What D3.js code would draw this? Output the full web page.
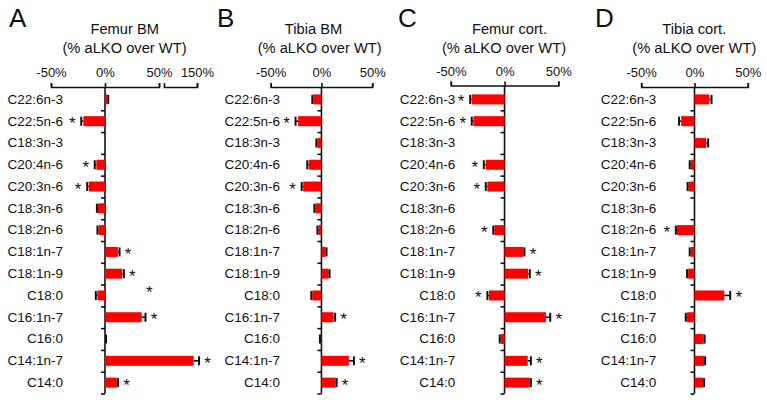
<!DOCTYPE html>
<html>
<head>
<meta charset="utf-8">
<script src="https://cdn.jsdelivr.net/npm/d3@7"></script>
<style>
  html, body { margin: 0; padding: 0; background: #fff; }
  svg text { font-family: "Liberation Sans", Arial, sans-serif; fill: #111; }
</style>
</head>
<body>
<script>
// ---------- data ----------
const categories = ["C22:6n-3","C22:5n-6","C18:3n-3","C20:4n-6","C20:3n-6","C18:3n-6","C18:2n-6",
                    "C18:1n-7","C18:1n-9","C18:0","C16:1n-7","C16:0","C14:1n-7","C14:0"];

const femurBM     = [2, -20, null, -8, -15, -6.5, -6, 12, 16, -7, 34, 0.5, 145, 11];
const femurBMErr  = [1, 2, 0, 1.5, 1.5, 1, 1, 1.5, 1.5, 1.5, 3.5, 0.5, 8, 1];
const femurBMSig  = [0, 1, 0, 1, 1, 0, 0, 1, 1, 1, 1, 0, 1, 1];
const femurBMStarAnchor = {"C18:0": 41};   // the C18:0 asterisk sits apart from its bar

const tibiaBM     = [-8, -23, -4, -12.5, -18, -6, -3, 4, 7, -9, 12, -1, 27, 14];
const tibiaBMErr  = [1, 2.5, 1, 1.5, 1.5, 1, 1, 1, 1, 1, 1.5, 0.5, 5, 1];
const tibiaBMSig  = [0, 1, 0, 0, 1, 0, 0, 0, 0, 0, 1, 0, 1, 1];

const femurCort    = [-30.5, -29, null, -17.5, -16, null, -9.5, 17.5, 22, -14.5, 38.5, -3.5, 21.5, 23.5];
const femurCortErr = [1.5, 1.5, 0, 1.8, 1.5, 0, 1, 1, 1.5, 1.5, 4, 1, 3, 1];
const femurCortSig = [1, 1, 0, 1, 1, 0, 1, 1, 1, 1, 1, 0, 1, 1];

const tibiaCort    = [14, -12.5, 11, -3.5, -5.5, null, -16.5, -3.5, -6, 28, -7, 8.5, 9, 8];
const tibiaCortErr = [2, 2, 1.8, 1, 1, 0, 1, 1, 1, 5.5, 1.2, 1, 1, 1];
const tibiaCortSig = [0, 0, 0, 0, 0, 0, 1, 0, 0, 1, 0, 0, 0, 0];

const mainTicks  = [-50, 0, 50];
const breakTicks = [150];
const titles = [["Femur BM", "(% aLKO over WT)"], ["Tibia BM", "(% aLKO over WT)"],
                ["Femur cort.", "(% aLKO over WT)"], ["Tibia cort.", "(% aLKO over WT)"]];
const letters = ["A", "B", "C", "D"];

// ---------- layout ----------
const W = 767, H = 407;
const yTop = 88.5, yBot = 393.5;
const panels = [
  { vals: femurBM, err: femurBMErr, sig: femurBMSig, anchor: femurBMStarAnchor,
    range: [51, 159], brk: { dom: [100, 150], rng: [164, 197] },
    axisY: 87, labelPad: 42, letterX: 9, t1X: 124.7, t2X: 124.5 },
  { vals: tibiaBM, err: tibiaBMErr, sig: tibiaBMSig, anchor: {},
    range: [270.7, 372.2], axisY: 87, labelPad: 41.5, letterX: 217, t1X: 313.5, t2X: 319.7 },
  { vals: femurCort, err: femurCortErr, sig: femurCortSig, anchor: {},
    range: [450.8, 558.3], axisY: 85.5, labelPad: 49.3, letterX: 398, t1X: 509.5, t2X: 504 },
  { vals: tibiaCort, err: tibiaCortErr, sig: tibiaCortSig, anchor: {},
    range: [641.2, 747.8], axisY: 87, labelPad: 38.3, letterX: 595, t1X: 694.3, t2X: 694.3 }
];

const svg = d3.select("body").append("svg").attr("width", W).attr("height", H);

const y = d3.scaleBand().domain(categories).range([yTop, yBot])
  .paddingInner(0.54).paddingOuter(0.27);
const yLin = d3.scaleLinear().domain([0, categories.length]).range([yTop, yBot]);

panels.forEach((p, pi) => {
  const g = svg.append("g");
  // x scale (piecewise when the axis has a break)
  let x;
  if (p.brk) {
    x = d3.scaleLinear().domain([-50, 50, p.brk.dom[0], p.brk.dom[1]])
          .range([p.range[0], p.range[1], p.brk.rng[0], p.brk.rng[1]]);
  } else {
    x = d3.scaleLinear().domain([-50, 50]).range(p.range);
  }
  const x0 = x(0);
  const fmt = d => d + "%";

  // letter + titles
  g.append("text").attr("x", p.letterX).attr("y", 27).attr("font-size", 26).text(letters[pi]);
  g.append("text").attr("x", p.t1X).attr("y", 34).attr("text-anchor", "middle")
    .attr("font-size", 14.7).text(titles[pi][0]);
  g.append("text").attr("x", p.t2X).attr("y", 52.5).attr("text-anchor", "middle")
    .attr("font-size", 14.7).text(titles[pi][1]);

  // top axis (main segment)
  const seg1 = d3.scaleLinear().domain([-50, 50]).range([x(-50), x(50)]);
  const ax1 = g.append("g").attr("transform", `translate(0,${p.axisY})`)
    .call(d3.axisTop(seg1).tickValues(mainTicks).tickSize(4).tickSizeOuter(4)
      .tickPadding(6).tickFormat(fmt));
  const axes = [ax1];
  if (p.brk) {
    const seg2 = d3.scaleLinear().domain(p.brk.dom).range(p.brk.rng);
    axes.push(g.append("g").attr("transform", `translate(0,${p.axisY})`)
      .call(d3.axisTop(seg2).tickValues(breakTicks).tickSize(4).tickSizeOuter(4)
        .tickPadding(6).tickFormat(fmt)));
  }
  axes.forEach(a => {
    a.selectAll("path,line").attr("stroke", "#111").attr("stroke-width", 1.6);
    a.selectAll("text").attr("font-size", 13).attr("font-family", "Liberation Sans, Arial, sans-serif")
      .attr("fill", "#111");
  });

  // vertical axis with ticks at category boundaries
  const vax = g.append("g").attr("transform", `translate(${x0},0)`)
    .call(d3.axisLeft(yLin).tickValues(d3.range(1, categories.length + 1)).tickSize(4)
      .tickSizeOuter(0).tickFormat(""));
  vax.select(".domain").attr("d", `M0,${p.axisY}V${yBot}`);
  vax.selectAll("path,line").attr("stroke", "#111").attr("stroke-width", 1.6);

  // category labels
  const lab = g.append("g").attr("transform", `translate(${x0},0)`)
    .call(d3.axisLeft(y).tickSize(0).tickPadding(p.labelPad));
  lab.select(".domain").remove();
  lab.selectAll("text").attr("font-size", 13.5).attr("font-family", "Liberation Sans, Arial, sans-serif")
    .attr("fill", "#111");

  const rows = categories.map((c, i) => ({ c, v: p.vals[i], e: p.err[i], s: p.sig[i] }));
  const bw = y.bandwidth();

  // bars
  g.selectAll("rect.bar").data(rows.filter(d => d.v !== null)).join("rect")
    .attr("class", "bar")
    .attr("x", d => Math.min(x(d.v), x0))
    .attr("width", d => Math.abs(x(d.v) - x0))
    .attr("y", d => y(d.c)).attr("height", bw)
    .attr("fill", "#ff0000");

  // error bars
  const eb = g.selectAll("g.err").data(rows.filter(d => d.v !== null)).join("g").attr("class", "err");
  eb.append("line")
    .attr("x1", d => x(d.v)).attr("x2", d => x(d.v + Math.sign(d.v || 1) * d.e))
    .attr("y1", d => y(d.c) + bw / 2).attr("y2", d => y(d.c) + bw / 2)
    .attr("stroke", "#111").attr("stroke-width", 1.6);
  eb.append("line")
    .attr("x1", d => x(d.v + Math.sign(d.v || 1) * d.e)).attr("x2", d => x(d.v + Math.sign(d.v || 1) * d.e))
    .attr("y1", d => y(d.c) + 0.5).attr("y2", d => y(d.c) + bw - 0.5)
    .attr("stroke", "#111").attr("stroke-width", 2);

  // significance asterisks
  g.selectAll("text.star").data(rows.filter(d => d.s)).join("text")
    .attr("class", "star")
    .attr("text-anchor", "middle").attr("font-size", 17)
    .attr("x", d => {
      if (p.anchor[d.c] !== undefined) return x(p.anchor[d.c]);
      const end = x(d.v + Math.sign(d.v) * d.e);
      return d.v >= 0 ? end + 8.5 : end - 9;
    })
    .attr("y", d => y(d.c) + bw / 2 + (p.anchor[d.c] !== undefined ? 3 : 8))
    .text("*");
});
</script>
</body>
</html>
